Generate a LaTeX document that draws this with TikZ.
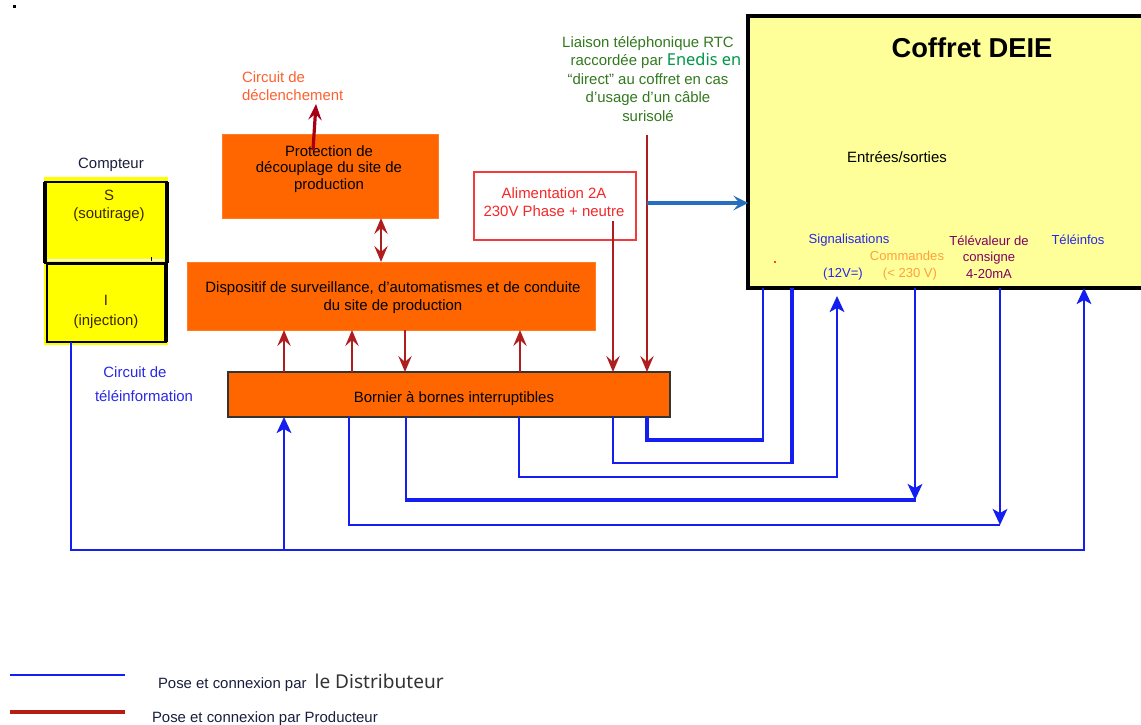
\documentclass[tikz,border=0pt]{standalone}
\usepackage{fontspec}
\setmainfont{Liberation Sans}
\newfontfamily\notosans{Noto Sans}
\usetikzlibrary{arrows.meta,fit}
\definecolor{orbox}{RGB}{255,102,0}
\definecolor{deieY}{RGB}{255,255,153}
\definecolor{metY}{RGB}{255,255,0}
\definecolor{bluL}{RGB}{20,30,240}
\definecolor{redL}{RGB}{175,30,30}
\definecolor{redD}{RGB}{165,0,20}
\definecolor{redLeg}{RGB}{180,30,20}
\definecolor{steel}{RGB}{40,110,190}
\definecolor{greenT}{RGB}{50,120,30}
\definecolor{greenE}{RGB}{0,150,70}
\definecolor{orT}{RGB}{255,96,48}
\definecolor{redT}{RGB}{245,40,40}
\definecolor{redB}{RGB}{240,60,60}
\definecolor{sigB}{RGB}{40,40,230}
\definecolor{cmdO}{RGB}{255,160,60}
\definecolor{purT}{RGB}{128,0,100}
\definecolor{navyT}{RGB}{25,30,60}
\definecolor{brownT}{RGB}{60,40,0}
\begin{document}
\begin{tikzpicture}[x=0.75pt,y=-0.75pt,
  every node/.style={inner sep=0pt, outer sep=0pt},
  obox/.style={fill=orbox, draw=orbox!85!white, line width=0.6pt},
  txt/.style={font=\fontsize{11.2}{13.5}\selectfont, align=center},
  small/.style={font=\fontsize{9.8}{12.3}\selectfont, align=center},
  bl/.style={draw=bluL, line width=1.8pt},
  blm/.style={draw=bluL, line width=2.2pt},
  blk/.style={draw=bluL, line width=2.9pt},
  rd/.style={draw=redL, line width=2.2pt},
  rtip/.style={-{Stealth[length=12pt,width=10pt,inset=4.5pt]}},
  btip/.style={-{Stealth[length=12pt,width=11pt,inset=3pt]}},
]
\useasboundingbox (0,0) rectangle (1141,724);
\fill[black] (13,5) rectangle (16,8);

% ---------- Coffret DEIE ----------
\node[fill=deieY, draw=black, line width=2.6pt, fit={(748,16) (1175,288)}] (coffret) {};
\node[font=\bfseries\fontsize{20.5}{24}\selectfont] (deie) at (972,48) {Coffret DEIE};
\node[txt] (es) at (897,157) {Entrées/sorties};
\node[small, text=sigB] (sig) at (849,240) {Signalisations};
\node[small, text=sigB] (sigv) at (843,274) {(12V=)};
\node[small, text=cmdO] (cmd) at (907,256) {Commandes};
\node[small, text=cmdO] (cmdv) at (910,274) {(< 230 V)};
\node[small, text=purT] (tlv) at (989,257) {Télévaleur de\\consigne\\4-20mA};
\node[small, text=sigB] (tli) at (1078,240) {Téléinfos};
\fill[red] (775,262) circle (1.2);

% ---------- Compteur ----------
\node[txt, text=navyT] (cpt) at (111,165) {Compteur};
\node[fill=metY, fit={(44,177) (168,345)}] (meterbg) {};
\node[draw=black, line width=1.5pt, fit={(45,182) (167,263)}] (meterS) {};
\node[draw=black, line width=1.5pt, fit={(47,264) (166,342)}] (meterI) {};
\draw[line width=2.6pt] (meterS.north west) -- (meterS.south west);
\draw[line width=2.6pt] (meterS.north east) -- (meterS.south east);
\draw[line width=2.6pt] (meterI.north east) -- (meterI.south east);
\draw[white, line width=1.5pt] (48,259.5) -- (164,259.5);
\draw[line width=0.6pt] (151,257) -- (151,261);
\node[txt, text=brownT] (stxt) at (109,206) {S\\(soutirage)};
\node[txt, text=brownT, font=\fontsize{11.2}{15}\selectfont] (itxt) at (106,312) {I\\(injection)};

% ---------- boxes ----------
\node[obox, fit={(222,134) (438,218)}] (prot) {};
\node[txt, font=\fontsize{11.2}{12.4}\selectfont] (prottxt) at (329,169) {Protection de\\découplage du site de\\production};
\node[obox, fit={(187,262) (595,330)}] (disp) {};
\node[txt] (disptxt) at (393,298) {Dispositif de surveillance, d’automatismes et de conduite\\du site de production};
\node[fill=orbox, draw=black!80, line width=1.1pt, fit={(228,372) (670,417)}] (bornier) {};
\node[txt] (borntxt) at (454,399) {Bornier à bornes interruptibles};
\node[fill=white, draw=redB, line width=1pt, fit={(474,172) (636,240)}] (alim) {};
\node[txt, text=redT] (alimtxt) at (554,202) {Alimentation 2A\\230V Phase + neutre};

% ---------- other texts ----------
\node[txt, text=orT, align=left, anchor=west] (decltxt) at (242,86) {Circuit de\\déclenchement};
\node[txt, text=greenT, font=\fontsize{11.2}{13.9}\selectfont] (phone) at (648,79)
  {Liaison téléphonique RTC\\\hspace*{12pt}raccordée par {\notosans\fontsize{12.3}{13.9}\selectfont\color{greenE}Enedis en}\\“direct” au coffret en cas\\d’usage d’un câble\\surisolé};
\node[txt, text=sigB, font=\fontsize{11.2}{18}\selectfont] (teleinfo) at (144,384) {Circuit de\rule{13.5pt}{0pt}\\téléinformation};

% ---------- red connectors ----------
\coordinate (declS) at (313,150);
\coordinate (declE) at (316,104);
\draw[draw=redD, line width=2.4pt, -{Stealth[length=12pt,width=10pt,inset=4.5pt]}] (declS) -- (declE);
\draw[rd, {Stealth[length=12pt,width=10pt,inset=4.5pt]}-{Stealth[length=12pt,width=10pt,inset=4.5pt]}] (prot.south -| 381,0) -- (disp.north -| 381,0);
\draw[rd, rtip] (bornier.north -| 284,0) -- (disp.south -| 284,0);
\draw[rd, rtip] (bornier.north -| 352,0) -- (disp.south -| 352,0);
\draw[rd, rtip] (disp.south -| 405,0) -- (bornier.north -| 405,0);
\draw[rd, rtip] (bornier.north -| 520,0) -- (disp.south -| 520,0);
\coordinate (alimout) at (613,221);
\draw[rd, rtip] (alimout) -- (bornier.north -| alimout);
\coordinate (tel) at (647,135);
\draw[rd, rtip] (tel) -- (bornier.north -| tel);
\coordinate (telj) at (647,203);
\draw[draw=steel, line width=2.5pt, -{Stealth[length=11pt,width=11pt,inset=4.5pt]}] (telj) -- (coffret.west |- telj);

% ---------- blue connectors ----------
% A
\draw[blk] (bornier.south -| 647,0) |- (764,440);
\draw[bl] (763,440) -- (coffret.south -| 763,0);
% B
\draw[bl] (bornier.south -| 613,0) |- (792,463);
\draw[blk] (792,464) -- (coffret.south -| 792,0);
% C
\coordinate (cC) at (837,296);
\draw[bl, btip] (bornier.south -| 519,0) |- (837,477) -- (cC);
% D
\draw[blm] (bornier.south -| 406,0) -- (406,500);
\draw[blk] (405,500) -- (916,500);
\draw[bl, btip] (coffret.south -| 915,0) -- (915,500);
% E
\draw[bl] (bornier.south -| 349,0) |- (1000,525);
\draw[bl, btip] (coffret.south -| 1000,0) -- (1000,525);
% F
\draw[bl, btip] (meterI.south -| 71,0) |- (1084,550) -- (coffret.south -| 1084,0);
\draw[bl, btip] (284,550) -- (bornier.south -| 284,0);

% ---------- legend ----------
\coordinate (lgB1) at (10,675);
\coordinate (lgB2) at (125,675);
\coordinate (lgR1) at (10,712);
\coordinate (lgR2) at (125,712);
\draw[draw=bluL, line width=2pt] (lgB1) -- (lgB2);
\draw[draw=redLeg, line width=3pt] (lgR1) -- (lgR2);
\node[txt, text=navyT, anchor=west] (legB) at (158,683) {Pose et connexion par\hspace{6pt}{\notosans\fontsize{14.3}{16}\selectfont\color{black!80}le Distributeur}};
\node[txt, text=navyT, anchor=west] (legR) at (152,719) {Pose et connexion par Producteur};
\end{tikzpicture}
\end{document}
